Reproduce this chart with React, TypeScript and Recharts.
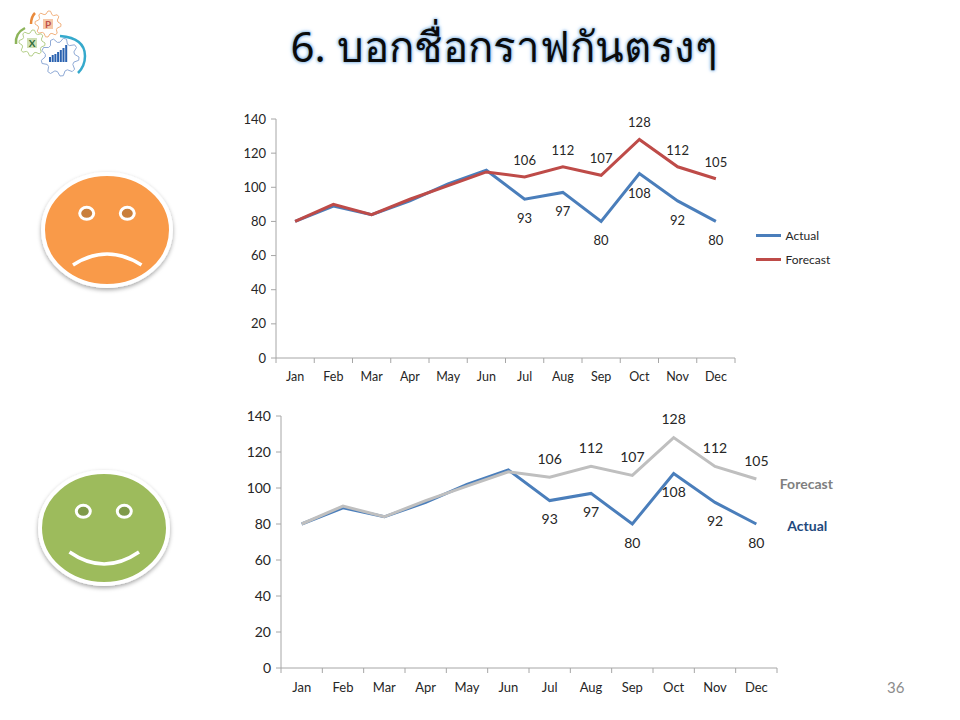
import React from "react";
import { LineChart, Line, XAxis, YAxis, Legend } from "recharts";

const months = ["Jan", "Feb", "Mar", "Apr", "May", "Jun", "Jul", "Aug", "Sep", "Oct", "Nov", "Dec"];
const actual = [80, 89, 84, 92, 102, 110, 93, 97, 80, 108, 92, 80];
const forecast = [80, 90, 84, 93, 101, 109, 106, 112, 107, 128, 112, 105];
const yTicks = [0, 20, 40, 60, 80, 100, 120, 140];
const seriesActual = "Actual";
const seriesForecast = "Forecast";
const titleText = "6. บอกชื่อกราฟกันตรงๆ";
const pageNumber = "36";
const firstLabelled = 6;

const rows = months.map((m, i) => ({ month: m, Actual: actual[i], Forecast: forecast[i] }));

const FONT = "Lato, 'Open Sans', sans-serif";
const INK = "#262626";
const AXIS = "#a6a6a6";
const BLUE = "#4A7EBB";
const RED = "#BE4B48";
const GRAY = "#BFBFBF";

function makeXTick(band: number, fontSize: number, labelDy: number) {
  return function XTick(props: any) {
    const { x, y, payload, index } = props;
    const left = x - band / 2;
    const last = index === months.length - 1;
    return (
      <g>
        <line x1={left} x2={left} y1={y - 8} y2={y - 3} stroke={AXIS} />
        {last && <line x1={left + band} x2={left + band} y1={y - 8} y2={y - 3} stroke={AXIS} />}
        <text x={x} y={y + labelDy} textAnchor="middle" fontSize={fontSize} fontFamily={FONT} fill={INK}>
          {payload.value}
        </text>
      </g>
    );
  };
}

function makeValueLabel(dy: number, fontSize: number, nameText?: string, nameFill?: string, nameDx = 0, nameDy = 0) {
  return function ValueLabel(props: any) {
    const { x, y, value, index } = props;
    if (index < firstLabelled) return <g key={index} />;
    return (
      <g key={index}>
        <text x={x} y={y + dy} textAnchor="middle" dominantBaseline="central" fontSize={fontSize} fontFamily={FONT} fill={INK}>
          {value}
        </text>
        {nameText && index === months.length - 1 && (
          <text x={x + nameDx} y={y + nameDy} textAnchor="middle" dominantBaseline="central" fontSize={14} fontWeight={700} fontFamily={FONT} fill={nameFill}>
            {nameText}
          </text>
        )}
      </g>
    );
  };
}

function TopLegend(props: any) {
  return (
    <div>
      {(props.payload || []).map((p: any) => (
        <div key={p.value} style={{ display: "flex", alignItems: "center", height: 24 }}>
          <span style={{ width: 25, height: 3, background: p.color, display: "inline-block", marginRight: 5 }} />
          <span style={{ fontFamily: FONT, fontSize: 12, color: INK }}>{p.value}</span>
        </div>
      ))}
    </div>
  );
}

function gearPath(cx: number, cy: number, r: number, teeth: number) {
  const pts: string[] = [];
  const n = teeth * 4;
  for (let i = 0; i < n; i++) {
    const a = (i / n) * Math.PI * 2;
    const rad = i % 4 === 0 || i % 4 === 1 ? r : r * 0.78;
    pts.push(`${(cx + rad * Math.cos(a)).toFixed(1)},${(cy + rad * Math.sin(a)).toFixed(1)}`);
  }
  return `M${pts.join("L")}Z`;
}

const logoBars = [5, 7, 8, 10, 12, 14, 17];

function Decorations() {
  return (
    <svg width={960} height={720} style={{ position: "absolute", left: 0, top: 0 }}>
      <defs>
        <filter id="shade" x="-20%" y="-20%" width="140%" height="140%">
          <feDropShadow dx="0" dy="2" stdDeviation="2" floodColor="#000" floodOpacity="0.35" />
        </filter>
      </defs>
      {/* logo */}
      <path d={gearPath(48, 24, 13, 8)} fill="#fff" stroke="#F2B27F" strokeWidth={1} />
      <rect x={43} y={19} width={10} height={10} fill="#F6C8A8" />
      <text x={48} y={28} textAnchor="middle" fontSize={10} fontWeight={700} fontFamily={FONT} fill="#C0504D">P</text>
      <path d={gearPath(32, 43, 13, 8)} fill="#fff" stroke="#B5CF8A" strokeWidth={1} />
      <rect x={27} y={38} width={10} height={10} fill="#CFE0B5" />
      <text x={32} y={47} textAnchor="middle" fontSize={10} fontWeight={700} fontFamily={FONT} fill="#2F6B3A">X</text>
      <path d={gearPath(60, 57, 19, 9)} fill="#fff" stroke="#8FAAD6" strokeWidth={1} />
      {logoBars.map((h, i) => (
        <rect key={i} x={49 + i * 2.7} y={62 - h} width={2} height={h} fill="#2A62B0" />
      ))}
      <path d="M31 24 Q31 17 35 13" fill="none" stroke="#E98A3C" strokeWidth={2.5} />
      <path d="M16 44 Q15 33 25 28" fill="none" stroke="#8DB45A" strokeWidth={2.5} />
      <path d="M60 36 Q85 38 85 56 Q85 66 78 73" fill="none" stroke="#35A9CC" strokeWidth={2.5} />

      {/* sad face */}
      <ellipse cx={107} cy={230} rx={64} ry={56} fill="#F99A49" stroke="#fff" strokeWidth={4} filter="url(#shade)" />
      <ellipse cx={86.7} cy={213.3} rx={7} ry={6} fill="#C97F3C" stroke="#fff" strokeWidth={3} />
      <ellipse cx={127.3} cy={213.3} rx={7} ry={6} fill="#C97F3C" stroke="#fff" strokeWidth={3} />
      <path d="M73 265 Q107 243 141.5 265" fill="none" stroke="#fff" strokeWidth={3.5} />

      {/* happy face */}
      <ellipse cx={104} cy={528} rx={64} ry={56} fill="#9DBB5B" stroke="#fff" strokeWidth={4} filter="url(#shade)" />
      <ellipse cx={83.3} cy={511.3} rx={7} ry={6} fill="#7F9A4A" stroke="#fff" strokeWidth={3} />
      <ellipse cx={124.3} cy={511.3} rx={7} ry={6} fill="#7F9A4A" stroke="#fff" strokeWidth={3} />
      <path d="M69.5 552 Q104 576 139 552" fill="none" stroke="#fff" strokeWidth={3.5} />
    </svg>
  );
}

const TOP_BAND = 459 / 12;
const BOTTOM_BAND = 496 / 12;

export default function App() {
  return (
    <div style={{ position: "absolute", left: 0, top: 0, width: 960, height: 720, background: "#fff", overflow: "hidden" }}>
      <Decorations />
      <div
        style={{
          position: "absolute",
          left: 204,
          width: 600,
          top: 15,
          textAlign: "center",
          fontFamily: "'Noto Sans', 'DejaVu Sans', sans-serif",
          fontSize: 42,
          lineHeight: "62px",
          color: "#0b0b0b",
          whiteSpace: "nowrap",
          textShadow: "0 0 3px #8FBDEA, 0 0 3px #8FBDEA, 0 0 5px #B5D4F2",
        }}
      >
        {titleText}
      </div>

      {/* top chart: plot 276..735 x 119..358 */}
      <div style={{ position: "absolute", left: 230, top: 100 }}>
        <LineChart width={620} height={295} data={rows} margin={{ top: 19, right: 115, bottom: 0, left: 0 }}>
          <XAxis
            dataKey="month"
            interval={0}
            height={37}
            padding={{ left: TOP_BAND / 2, right: TOP_BAND / 2 }}
            stroke={AXIS}
            tickLine={false}
            tick={makeXTick(TOP_BAND, 12.5, 15)}
          />
          <YAxis
            width={46}
            domain={[0, 140]}
            ticks={yTicks}
            interval={0}
            stroke={AXIS}
            tickSize={5}
            tickMargin={5}
            tick={{ fontSize: 13, fontFamily: FONT, fill: INK }}
          />
          <Legend
            layout="vertical"
            align="center"
            verticalAlign="middle"
            content={TopLegend}
            wrapperStyle={{ position: "absolute", left: 525.5, top: 123, width: 90 }}
          />
          <Line dataKey="Actual" name={seriesActual} stroke={BLUE} strokeWidth={3} dot={false} isAnimationActive={false} label={makeValueLabel(19, 13)} />
          <Line dataKey="Forecast" name={seriesForecast} stroke={RED} strokeWidth={3} dot={false} isAnimationActive={false} label={makeValueLabel(-17, 13)} />
        </LineChart>
      </div>

      {/* bottom chart: plot 281..777 x 416..668 */}
      <div style={{ position: "absolute", left: 230, top: 396 }}>
        <LineChart width={620} height={304} data={rows} margin={{ top: 20, right: 73, bottom: 0, left: 0 }}>
          <XAxis
            dataKey="month"
            interval={0}
            height={32}
            padding={{ left: BOTTOM_BAND / 2, right: BOTTOM_BAND / 2 }}
            stroke={AXIS}
            tickLine={false}
            tick={makeXTick(BOTTOM_BAND, 13, 16)}
          />
          <YAxis
            width={51}
            domain={[0, 140]}
            ticks={yTicks}
            interval={0}
            stroke={AXIS}
            tickSize={5}
            tickMargin={5}
            tick={{ fontSize: 14, fontFamily: FONT, fill: INK }}
          />
          <Line dataKey="Actual" name={seriesActual} stroke={BLUE} strokeWidth={3} dot={false} isAnimationActive={false} label={makeValueLabel(18, 14, seriesActual, "#1F497D", 51, 1)} />
          <Line dataKey="Forecast" name={seriesForecast} stroke={GRAY} strokeWidth={3} dot={false} isAnimationActive={false} label={makeValueLabel(-19, 14, seriesForecast, "#7F7F7F", 50, 4)} />
        </LineChart>
      </div>

      <div style={{ position: "absolute", left: 887, top: 678, fontFamily: FONT, fontSize: 15, color: "#8c8c8c" }}>{pageNumber}</div>
    </div>
  );
}
